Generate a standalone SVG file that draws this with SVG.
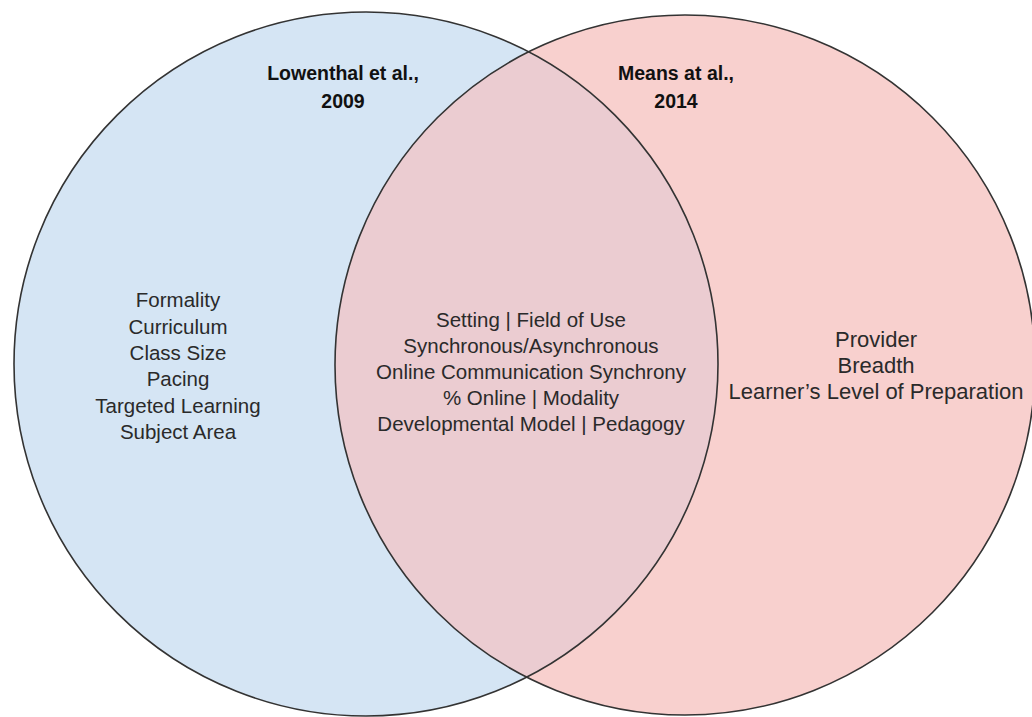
<svg xmlns="http://www.w3.org/2000/svg" width="1032" height="717" viewBox="0 0 1032 717">
  <defs>
    <style>
      .set { stroke: #333333; stroke-width: 1.6; }
      .t { font-family: "Liberation Sans", Arial, sans-serif; font-size: 20.5px; fill: #2a2a2a; text-anchor: middle; }
      .r { font-size: 22px; }
      .h { font-family: "Liberation Sans", Arial, sans-serif; font-size: 19.5px; font-weight: bold; fill: #111111; text-anchor: middle; }
    </style>
    <clipPath id="clipLeft">
      <circle cx="366" cy="364" r="352"/>
    </clipPath>
  </defs>
  <rect width="1032" height="717" fill="#ffffff"/>
  <g id="set-lowenthal">
    <circle cx="366" cy="364" r="352" fill="#d5e5f4"/>
  </g>
  <g id="set-means">
    <circle cx="685" cy="365" r="350" fill="#f8d0ce"/>
  </g>
  <g id="overlap">
    <circle cx="685" cy="365" r="350" fill="#ebccd1" clip-path="url(#clipLeft)"/>
  </g>
  <g id="outlines" fill="none">
    <circle class="set" cx="366" cy="364" r="352"/>
    <circle class="set" cx="685" cy="365" r="350"/>
  </g>
  <g id="label-lowenthal">
    <text class="h" x="343" y="80">Lowenthal et al.,</text>
    <text class="h" x="343" y="108">2009</text>
  </g>
  <g id="label-means">
    <text class="h" x="676" y="80">Means at al.,</text>
    <text class="h" x="676" y="108">2014</text>
  </g>
  <g id="items-lowenthal">
    <text class="t" x="178" y="307">Formality</text>
    <text class="t" x="178" y="334">Curriculum</text>
    <text class="t" x="178" y="360">Class Size</text>
    <text class="t" x="178" y="386">Pacing</text>
    <text class="t" x="178" y="413">Targeted Learning</text>
    <text class="t" x="178" y="439">Subject Area</text>
  </g>
  <g id="items-shared">
    <text class="t" x="531" y="327">Setting | Field of Use</text>
    <text class="t" x="531" y="353">Synchronous/Asynchronous</text>
    <text class="t" x="531" y="379">Online Communication Synchrony</text>
    <text class="t" x="531" y="405">% Online | Modality</text>
    <text class="t" x="531" y="431">Developmental Model | Pedagogy</text>
  </g>
  <g id="items-means">
    <text class="t r" x="876" y="347">Provider</text>
    <text class="t r" x="876" y="373">Breadth</text>
    <text class="t r" x="876" y="399">Learner’s Level of Preparation</text>
  </g>
</svg>
